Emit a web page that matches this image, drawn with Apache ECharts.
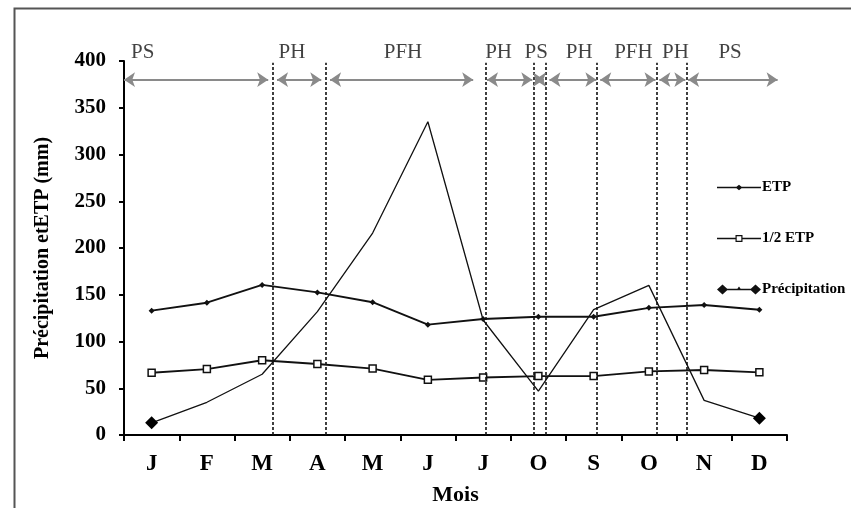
<!DOCTYPE html>
<html><head><meta charset="utf-8">
<script src="https://cdn.jsdelivr.net/npm/echarts@6/dist/echarts.min.js"></script>
<style>html,body{margin:0;padding:0;background:#fff}#c{width:851px;height:508px}</style>
</head><body><div id="c"></div>
<script>
const months = ['J','F','M','A','M','J','J','O','S','O','N','D'];
const etp = [133, 141.5, 160.5, 152.5, 142, 118, 124, 126.5, 126.5, 136, 139, 134];
const halfEtp = [66.5, 70.5, 80, 76, 71, 59, 61.5, 63, 63, 68, 69.5, 67];
const precip = [13, 35, 65, 132, 216, 335, 123, 47, 134, 160, 37, 18];
const yTicks = [0, 50, 100, 150, 200, 250, 300, 350, 400];
// period boundaries (in month units from start of January)
const boundaries = [2.69, 3.66, 6.55, 7.42, 7.64, 8.55, 9.65, 10.19];
// period arrows [start, end] in month units
const periodArrows = [[0,2.61],[2.77,3.57],[3.73,6.32],[6.57,7.39],[7.44,7.60],[7.70,8.55],[8.62,9.62],[9.69,10.16],[10.21,11.83]];
const periodLabels = ['PS','PH','PFH','PH','PS','PH','PFH','PH','PS'];
const periodLabelX = [0.34, 3.04, 5.05, 6.78, 7.46, 8.24, 9.22, 9.98, 10.97];
const arrowLevel = 380;
const labelLevel = 409;

const FONT = 'Liberation Serif';
// legend icons drawn in a 44x12 box (tiny corner dots fix the bounding box)
const corners = 'M0 0 h0.01 v0.01 h-0.01 Z M43.99 11.99 h0.01 v0.01 h-0.01 Z ';
const iconEtp = 'path://' + corners + 'M0 5.3 H19.5 L22 3.2 L24.5 5.3 H44 V6.7 H24.5 L22 8.8 L19.5 6.7 H0 Z';
const iconHalf = 'path://' + corners + 'M0 5.3 H18.5 V2.5 H25.5 V5.3 H44 V6.7 H25.5 V9.5 H18.5 V6.7 H0 Z M19.7 3.7 V8.3 H24.3 V3.7 Z';
const iconPrec = 'path://' + corners + 'M0 6 L5.5 1 L11 6 L5.5 11 Z M5 5.3 H39 V6.7 H5 Z M19.5 6.5 L22 3 L24.5 6.5 Z M33 6 L38.5 1 L44 6 L38.5 11 Z';

const chart = echarts.init(document.getElementById('c'));
const last = precip.length - 1;
chart.setOption({
  animation: false,
  graphic: [{
    type: 'rect', left: 12, top: 6, silent: true,
    shape: { width: 900, height: 600 },
    style: { fill: 'none', stroke: '#555', lineWidth: 2 }
  }],
  grid: { left: 124, right: 64, top: 61, bottom: 73, outerBoundsMode: 'none' },
  legend: {
    orient: 'vertical', left: 712, top: 175, itemWidth: 44, itemHeight: 12, itemGap: 36,
    symbolKeepAspect: false,
    textStyle: { fontFamily: FONT, fontWeight: 'bold', fontSize: 15, color: '#000', padding: [0, 0, 0, -4] },
    data: [
      { name: 'ETP', icon: iconEtp, itemStyle: { color: '#111', borderWidth: 0 } },
      { name: '1/2 ETP', icon: iconHalf, itemStyle: { color: '#111', borderWidth: 0 } },
      { name: 'Précipitation', icon: iconPrec, itemStyle: { color: '#111', borderWidth: 0 } }
    ]
  },
  xAxis: [{
    type: 'category', data: months, boundaryGap: true,
    name: 'Mois', nameLocation: 'middle', nameGap: 49,
    nameTextStyle: { fontFamily: FONT, fontWeight: 'bold', fontSize: 22, color: '#000' },
    axisLine: { lineStyle: { color: '#000', width: 2 } },
    axisTick: { show: true, length: 6, alignWithLabel: false, lineStyle: { color: '#000', width: 2 } },
    axisLabel: { fontFamily: FONT, fontWeight: 'bold', fontSize: 23, color: '#000', margin: 18 },
    splitLine: { show: false }
  }, {
    type: 'value', min: 0, max: 12, show: false
  }],
  yAxis: {
    type: 'value', min: yTicks[0], max: yTicks[yTicks.length - 1], interval: 50,
    name: 'Précipitation etETP (mm)', nameLocation: 'middle', nameGap: 71, nameRotate: 90,
    nameTextStyle: { fontFamily: FONT, fontWeight: 'bold', fontSize: 20, color: '#000' },
    axisLine: { show: true, lineStyle: { color: '#000', width: 2 } },
    axisTick: { show: true, length: 5, lineStyle: { color: '#000', width: 2 } },
    axisLabel: { fontFamily: FONT, fontWeight: 'bold', fontSize: 21, color: '#000', margin: 18 },
    splitLine: { show: false }
  },
  series: [
    {
      name: 'ETP', type: 'line', data: etp, symbol: 'diamond', symbolSize: 6,
      itemStyle: { color: '#111' }, lineStyle: { color: '#111', width: 1.9 }
    },
    {
      name: '1/2 ETP', type: 'line', data: halfEtp, symbol: 'rect', symbolSize: 7,
      itemStyle: { color: '#fff', borderColor: '#111', borderWidth: 1.5 },
      lineStyle: { color: '#111', width: 1.9 }
    },
    {
      name: 'Précipitation', type: 'line', symbol: 'diamond',
      data: precip.map((v, i) => (i === 0 || i === last) ? { value: v, symbolSize: 13 } : { value: v, symbol: 'none' }),
      itemStyle: { color: '#000' }, lineStyle: { color: '#111', width: 1.3 }
    },
    {
      name: 'periods', type: 'scatter', xAxisIndex: 1, symbolSize: 0, clip: false, silent: true,
      data: periodLabelX.map((x, i) => [x, labelLevel, periodLabels[i]]),
      label: { show: true, position: 'inside', formatter: p => p.data[2],
        fontFamily: FONT, fontSize: 21, color: '#111' },
      markLine: {
        silent: true, symbol: 'none', label: { show: false },
        lineStyle: { color: '#111', type: [3, 2], width: 1.6 },
        data: boundaries.map(b => [{ coord: [b, 0] }, { coord: [b, 398] }])
      }
    },
    {
      name: 'arrows', type: 'line', xAxisIndex: 1, data: [], silent: true,
      markLine: {
        silent: true, symbol: ['arrow', 'arrow'], symbolSize: [11, 11], label: { show: false },
        lineStyle: { color: '#8a8a8a', type: 'solid', width: 2 },
        data: periodArrows.map(a => [{ coord: [a[0], arrowLevel] }, { coord: [a[1], arrowLevel] }])
      }
    }
  ]
});
</script></body></html>
